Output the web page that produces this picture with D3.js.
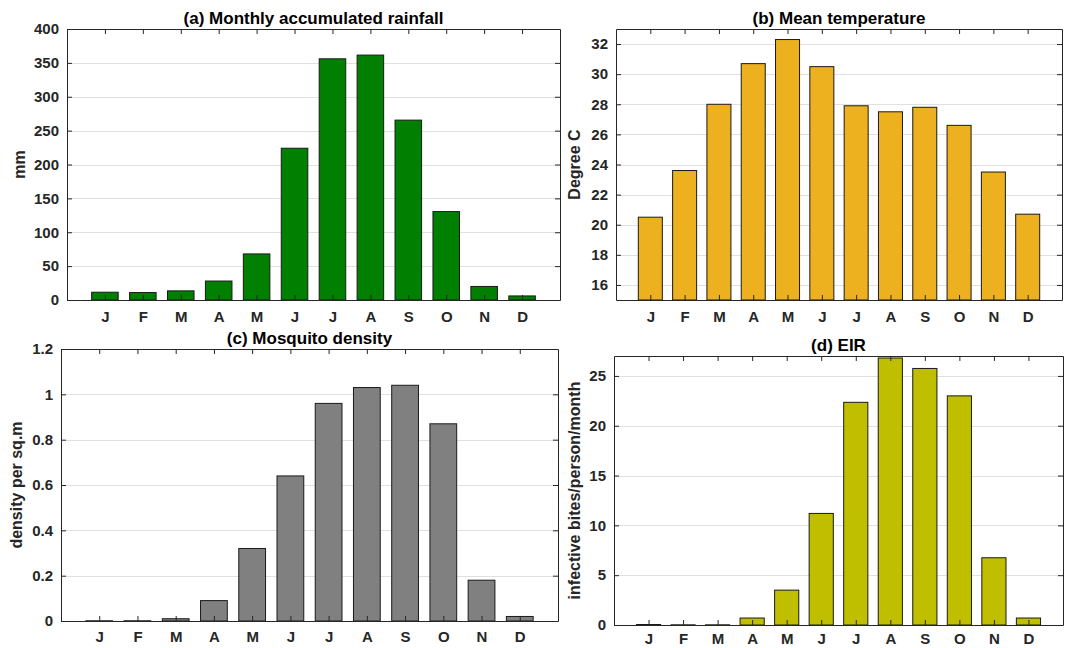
<!DOCTYPE html>
<html>
<head>
<meta charset="utf-8">
<script src="https://cdn.jsdelivr.net/npm/d3@7"></script>
<style>
    body { margin: 0; background: #fff; }
    svg { display: block; font-family: "Liberation Sans", Arial, Helvetica, sans-serif; font-weight: bold; }
    .axis path, .axis line { stroke: #262626; }
    .axis text { font-size: 15px; fill: #262626; font-family: "Liberation Sans", Arial, sans-serif; font-weight: bold; }
    .grid { stroke: #e0e0e0; stroke-width: 1; }
    .bar { stroke: #1a1a1a; stroke-width: 1; }
    .title { font-size: 17px; fill: #000; }
    .ylabel { font-size: 16px; fill: #262626; }
</style>
</head>
<body>
<svg id="chart" width="1073" height="648"></svg>
<script>
// month letters for x axis
var months = ["J", "F", "M", "A", "M", "J", "J", "A", "S", "O", "N", "D"];

// (a) monthly accumulated rainfall, mm
var rainfall = [11.5, 11, 13.5, 28, 68, 224, 356, 361.5, 265.5, 130.5, 20, 6];
// (b) mean temperature, degree C
var temperature = [20.5, 23.6, 28.0, 30.7, 32.3, 30.5, 27.9, 27.5, 27.8, 26.6, 23.5, 20.7];
// (c) mosquito density per sq.m
var density = [0.001, 0.001, 0.01, 0.09, 0.32, 0.64, 0.96, 1.03, 1.04, 0.87, 0.18, 0.02];
// (d) EIR, infective bites/person/month
var eir = [0.05, 0.02, 0.02, 0.7, 3.5, 11.2, 22.35, 26.8, 25.75, 23.0, 6.75, 0.7];

// y tick labels
var rainTicks = [0, 50, 100, 150, 200, 250, 300, 350, 400];
var tempTicks = [16, 18, 20, 22, 24, 26, 28, 30, 32];
var densityTicks = [0, 0.2, 0.4, 0.6, 0.8, 1, 1.2];
var eirTicks = [0, 5, 10, 15, 20, 25];

var svg = d3.select("#chart");

var panels = [
    {title: "(a) Monthly accumulated rainfall", ylabel: "mm", values: rainfall, ticks: rainTicks,
        yDomain: [0, 400], color: "#007f00", left: 67, right: 560, top: 29, bottom: 300, labelX: 25, pad: 11},
    {title: "(b) Mean temperature", ylabel: "Degree C", values: temperature, ticks: tempTicks,
        yDomain: [15, 33], color: "#edb120", left: 616, right: 1062, top: 29, bottom: 300, labelX: 580, pad: 11},
    {title: "(c) Mosquito density", ylabel: "density per sq.m", values: density, ticks: densityTicks,
        yDomain: [0, 1.2], color: "#808080", left: 61, right: 558, top: 349, bottom: 621, labelX: 21.5, pad: 10},
    {title: "(d) EIR", ylabel: "infective bites/person/month", values: eir, ticks: eirTicks,
        yDomain: [0, 27], color: "#bfbf00", left: 614, right: 1063, top: 356, bottom: 625, labelX: 579.5, pad: 8.5}
];

function drawPanel(p) {
    var g = svg.append("g");
    var barHalf = 0.35;

    var x = d3.scaleLinear().domain([0, 13]).range([p.left, p.right]);
    var y = d3.scaleLinear().domain(p.yDomain).range([p.bottom, p.top]);

    // horizontal grid lines
    g.selectAll(".grid")
        .data(p.ticks)
        .enter().append("line")
        .attr("class", "grid")
        .attr("x1", p.left)
        .attr("x2", p.right)
        .attr("y1", function (d) { return Math.round(y(d)) + 0.5; })
        .attr("y2", function (d) { return Math.round(y(d)) + 0.5; });

    // bars start at the bottom of the axis
    g.selectAll(".bar")
        .data(p.values)
        .enter().append("rect")
        .attr("class", "bar")
        .attr("fill", p.color)
        .attr("x", function (d, i) { return x(i + 1 - barHalf); })
        .attr("width", x(1 + barHalf) - x(1 - barHalf))
        .attr("y", function (d) { return y(d); })
        .attr("height", function (d) { return y(p.yDomain[0]) - y(d); });

    var monthTicks = d3.range(1, 13);

    g.append("g")
        .attr("class", "axis")
        .attr("transform", "translate(0," + p.bottom + ")")
        .call(d3.axisBottom(x).tickValues(monthTicks)
            .tickFormat(function (d) { return months[d - 1]; })
            .tickSizeInner(-5).tickSizeOuter(0).tickPadding(p.pad));

    g.append("g")
        .attr("class", "axis")
        .attr("transform", "translate(0," + p.top + ")")
        .call(d3.axisTop(x).tickValues(monthTicks).tickFormat("")
            .tickSizeInner(-5).tickSizeOuter(0));

    g.append("g")
        .attr("class", "axis")
        .attr("transform", "translate(" + p.left + ",0)")
        .call(d3.axisLeft(y).tickValues(p.ticks)
            .tickFormat(function (d) { return String(d); })
            .tickSizeInner(-5).tickSizeOuter(0).tickPadding(8));

    g.append("g")
        .attr("class", "axis")
        .attr("transform", "translate(" + p.right + ",0)")
        .call(d3.axisRight(y).tickValues(p.ticks).tickFormat("")
            .tickSizeInner(-5).tickSizeOuter(0));

    g.append("text")
        .attr("class", "title")
        .attr("text-anchor", "middle")
        .attr("x", (p.left + p.right) / 2)
        .attr("y", p.top - 5.5)
        .text(p.title);

    g.append("text")
        .attr("class", "ylabel")
        .attr("text-anchor", "middle")
        .attr("transform", "translate(" + p.labelX + "," + (p.top + p.bottom) / 2 + ") rotate(-90)")
        .text(p.ylabel);
}

panels.forEach(drawPanel);
</script>
</body>
</html>
